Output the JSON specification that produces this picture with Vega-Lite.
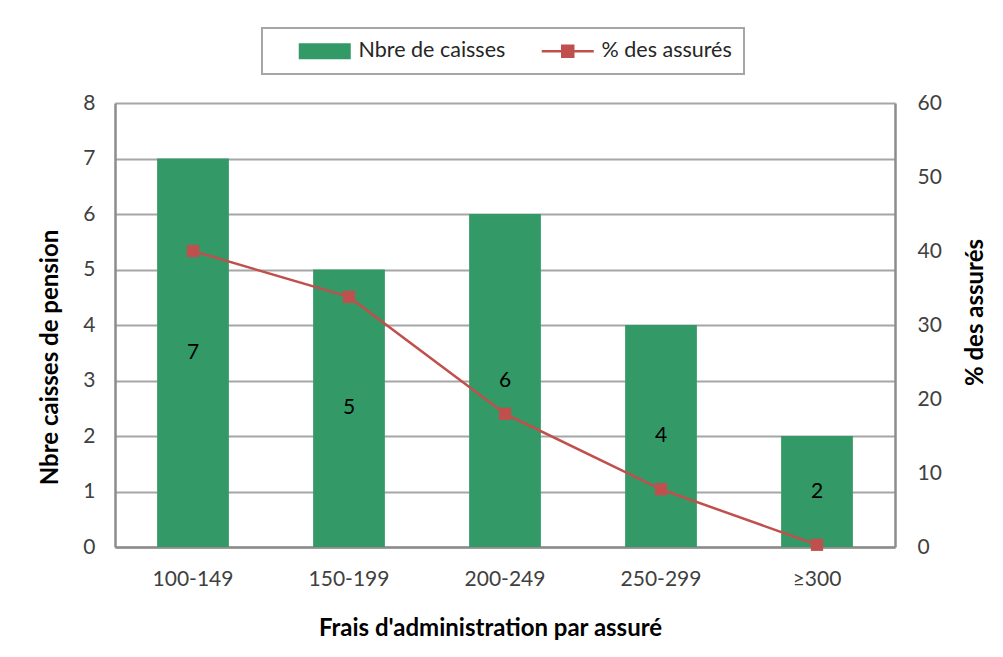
{
  "$schema": "https://vega.github.io/schema/vega-lite/v6.json",
  "width": 780,
  "height": 444,
  "autosize": {"type": "none"},
  "padding": {"left": 115, "top": 103, "right": 108, "bottom": 110},
  "background": "white",
  "config": {
    "view": {"stroke": null},
    "font": "Lato",
    "axis": {
      "labelFont": "Lato",
      "labelFontSize": 21,
      "labelColor": "#404040",
      "titleFont": "Lato",
      "titleFontSize": 24,
      "titleFontWeight": "bold",
      "titleColor": "#000000",
      "ticks": false,
      "domainColor": "#8C8C8C",
      "domainWidth": 2.5
    }
  },
  "data": {
    "values": [
      {"cat": "100-149", "n": 7, "pct": 40},
      {"cat": "150-199", "n": 5, "pct": 33.8},
      {"cat": "200-249", "n": 6, "pct": 18},
      {"cat": "250-299", "n": 4, "pct": 7.8},
      {"cat": "≥300", "n": 2, "pct": 0.3}
    ]
  },
  "encoding": {
    "x": {
      "field": "cat",
      "type": "nominal",
      "sort": null,
      "scale": {"paddingInner": 0.54, "paddingOuter": 0.27},
      "axis": {
        "labelAngle": 0,
        "labelPadding": 21,
        "grid": false,
        "title": "Frais d'administration par assuré",
        "titleX": 375,
        "titleY": 81,
        "titleAlign": "center",
        "titleBaseline": "middle"
      }
    }
  },
  "layer": [
    {
      "mark": {"type": "bar"},
      "encoding": {
        "y": {
          "field": "n",
          "type": "quantitative",
          "scale": {"domain": [0, 8]},
          "axis": {
            "orient": "left",
            "values": [0, 1, 2, 3, 4, 5, 6, 7, 8],
            "grid": true,
            "gridColor": "#A6A6A6",
            "gridWidth": 2,
            "labelPadding": 20,
            "title": "Nbre caisses de pension",
            "titleX": -65,
            "titleY": 254,
            "titleAngle": 270,
            "titleAlign": "center",
            "titleBaseline": "middle"
          }
        },
        "color": {
          "datum": "Nbre de caisses",
          "type": "nominal",
          "scale": {"domain": ["Nbre de caisses", "% des assurés"], "range": ["#339966", "#C0504D"]},
          "legend": {
            "title": null,
            "orient": "none",
            "legendX": 147,
            "legendY": -75,
            "direction": "horizontal",
            "strokeColor": "#A6A6A6",
            "padding": 12,
            "symbolSize": 400,
            "symbolStrokeWidth": 0,
            "labelFont": "Lato",
            "labelFontSize": 21.5,
            "labelColor": "#262626",
            "labelOffset": 63,
            "columnPadding": 11,
            "encode": {
              "legend": {"update": {"strokeWidth": {"value": 2}}},
              "symbols": {
                "update": {
                  "shape": {"signal": "datum.value === 'Nbre de caisses' ? 'M1.4,-0.8H6.6V0.8H1.4Z' : 'M1.4,0H6.6M3.45,-0.55H4.55V0.55H3.45Z'"},
                  "fill": {"signal": "datum.value === 'Nbre de caisses' ? '#339966' : '#C0504D'"},
                  "stroke": {"value": "#C0504D"},
                  "strokeWidth": {"signal": "datum.value === 'Nbre de caisses' ? 0 : 2.5"},
                  "opacity": {"value": 1}
                }
              }
            }
          }
        }
      }
    },
    {
      "mark": {
        "type": "line",
        "strokeWidth": 2.5,
        "point": {"shape": "square", "size": 150, "filled": true, "opacity": 1}
      },
      "encoding": {
        "y": {
          "field": "pct",
          "type": "quantitative",
          "scale": {"domain": [0, 60]},
          "axis": {
            "orient": "right",
            "values": [0, 10, 20, 30, 40, 50, 60],
            "grid": false,
            "labelPadding": 22,
            "title": "% des assurés",
            "titleX": 80,
            "titleY": 209,
            "titleAngle": 270,
            "titleAlign": "center",
            "titleBaseline": "middle"
          }
        },
        "color": {"datum": "% des assurés", "type": "nominal"}
      }
    },
    {
      "mark": {"type": "text", "fontSize": 21, "font": "Lato", "color": "#000000", "baseline": "middle"},
      "encoding": {
        "y": {"field": "n", "type": "quantitative", "scale": {"domain": [0, 16]}, "axis": null},
        "text": {"field": "n", "type": "quantitative"}
      }
    }
  ],
  "resolve": {"scale": {"y": "independent"}, "axis": {"y": "independent"}}
}
